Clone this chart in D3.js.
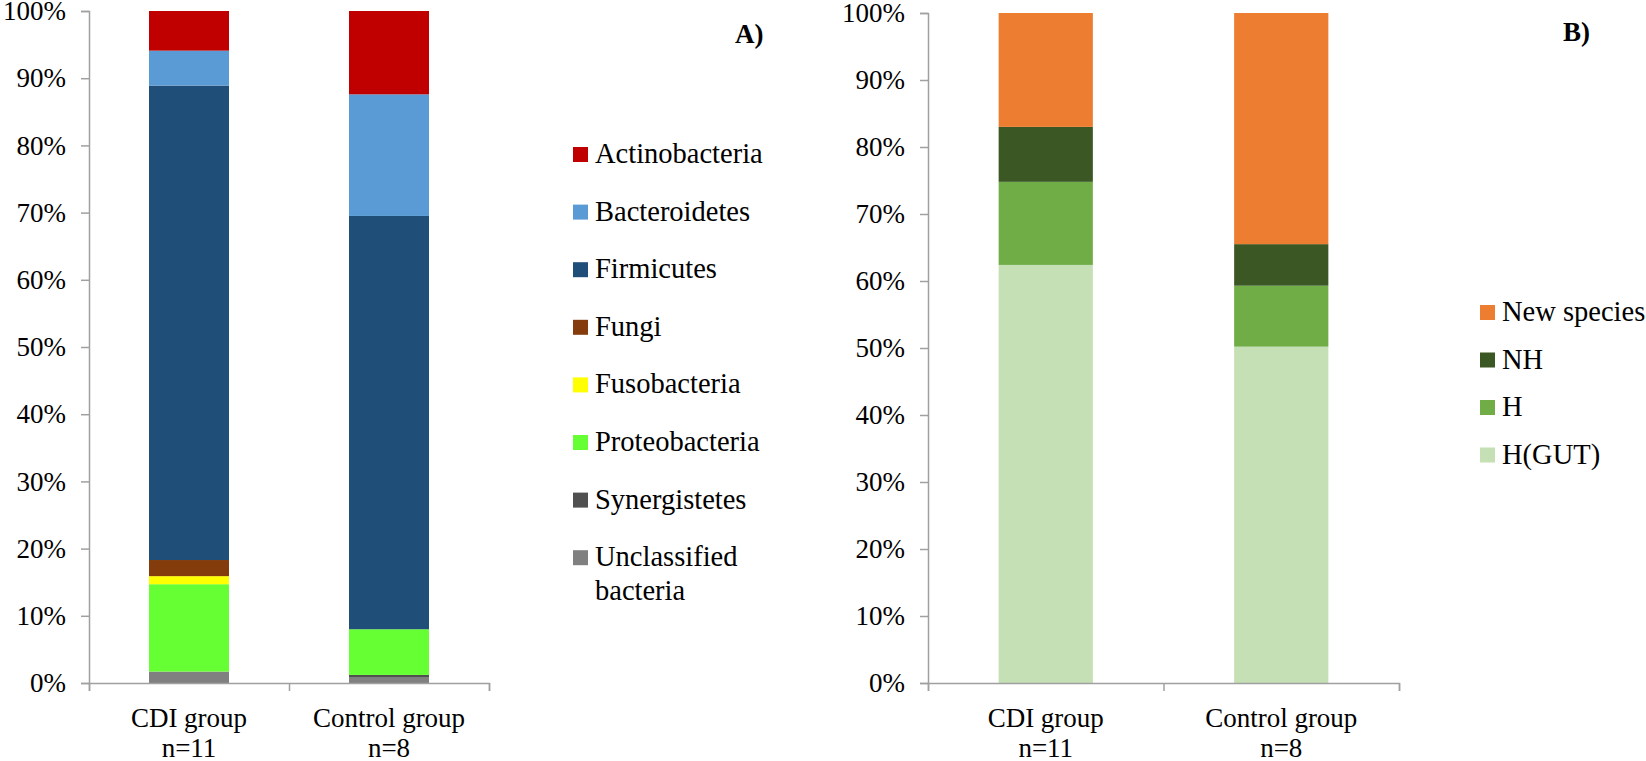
<!DOCTYPE html>
<html>
<head>
<meta charset="utf-8">
<script src="https://cdn.jsdelivr.net/npm/d3@7"></script>
<style>
  body { margin: 0; background: #fff; }
  svg text { font-family: "Liberation Serif", Tinos, "Times New Roman", Times, "DejaVu Serif", "Noto Serif", serif; fill: #000; }
</style>
</head>
<body>
<div id="chart"></div>
<script>
// groups on the x axis
var groups = ["CDI group", "Control group"];
var groupN = ["n=11", "n=8"];

// panel A - phyla, listed top of bar first (legend order)
var phyla = ["Actinobacteria", "Bacteroidetes", "Firmicutes", "Fungi",
             "Fusobacteria", "Proteobacteria", "Synergistetes", "Unclassified bacteria"];
var phylaColors = ["#C00000", "#5B9BD5", "#1F4E79", "#843C0C",
                   "#FFFF00", "#66FF33", "#505050", "#808080"];
var cdiPhyla = [5.9, 5.2, 70.6, 2.4, 1.2, 13.0, 0, 1.7];
var controlPhyla = [12.4, 18.1, 61.5, 0, 0, 6.8, 0.4, 0.8];

// panel B - species categories
var species = ["New species", "NH", "H", "H(GUT)"];
var speciesColors = ["#ED7D31", "#3A5724", "#70AD47", "#C5E0B4"];
var cdiSpecies = [17.0, 8.2, 12.4, 62.4];
var controlSpecies = [34.5, 6.2, 9.1, 50.2];

var yTicks = [0, 10, 20, 30, 40, 50, 60, 70, 80, 90, 100];

var svgWidth = 1646;
var svgHeight = 761;
var serif = "'Liberation Serif', Tinos, 'Times New Roman', Times, 'DejaVu Serif', 'Noto Serif', serif";

var svg = d3.select("#chart")
    .append("svg")
    .attr("width", svgWidth)
    .attr("height", svgHeight)
    .attr("font-family", serif);

// draws one stacked panel
function drawPanel(opts) {
    var keys = opts.keys;
    var rows = groups.map(function(g, i) {
        var row = { group: g };
        keys.forEach(function(k, j) { row[k] = opts.values[i][j]; });
        return row;
    });

    var x = d3.scaleBand()
        .domain(groups)
        .range([opts.left, opts.right])
        .paddingInner(0.6)
        .paddingOuter(0.3);

    var y = d3.scaleLinear()
        .domain([0, 100])
        .range([opts.bottom, opts.top]);

    var color = d3.scaleOrdinal().domain(keys).range(opts.colors);

    // bottom of the bar is the last key
    var stack = d3.stack().keys(keys.slice().reverse());
    var series = stack(rows);

    var g = svg.append("g");

    g.selectAll("g.layer")
        .data(series)
        .enter()
        .append("g")
        .attr("class", "layer")
        .attr("fill", function(d) { return color(d.key); })
        .selectAll("rect")
        .data(function(d) { return d; })
        .enter()
        .append("rect")
        .attr("x", function(d) { return x(d.data.group); })
        .attr("y", function(d) { return y(d[1]); })
        .attr("width", x.bandwidth())
        .attr("height", function(d) { return y(d[0]) - y(d[1]); });

    // y axis
    var yAxis = g.append("g")
        .attr("transform", "translate(" + opts.left + ",0)")
        .call(d3.axisLeft(y)
            .tickValues(yTicks)
            .tickSize(8)
            .tickPadding(15)
            .tickFormat(function(d) { return d + "%"; }));
    yAxis.attr("font-family", serif).attr("font-size", 27);
    yAxis.selectAll("text").attr("fill", "#000");

    // x axis: ticks sit on the band boundaries
    var xb = d3.scaleLinear().domain([0, groups.length]).range([opts.left, opts.right]);
    g.append("g")
        .attr("transform", "translate(0," + opts.bottom + ")")
        .call(d3.axisBottom(xb)
            .tickValues(d3.range(groups.length + 1))
            .tickSize(8)
            .tickFormat(""));

    g.selectAll(".domain, .tick line")
        .attr("stroke", "#A0A0A0")
        .attr("stroke-width", 1.5);

    // category labels
    var lab = g.selectAll("text.cat")
        .data(groups)
        .enter()
        .append("text")
        .attr("class", "cat")
        .attr("text-anchor", "middle")
        .attr("font-size", 27);
    lab.append("tspan")
        .attr("x", function(d) { return x(d) + x.bandwidth() / 2; })
        .attr("y", opts.bottom + 44)
        .text(function(d) { return d; });
    lab.append("tspan")
        .attr("x", function(d) { return x(d) + x.bandwidth() / 2; })
        .attr("y", opts.bottom + 74)
        .text(function(d, i) { return groupN[i]; });

    // panel letter
    g.append("text")
        .attr("x", opts.letterX)
        .attr("y", opts.letterY)
        .attr("font-size", 27)
        .attr("font-weight", "bold")
        .text(opts.letter);

    // legend
    var leg = g.selectAll("g.leg")
        .data(keys)
        .enter()
        .append("g")
        .attr("class", "leg")
        .attr("transform", function(d, i) {
            return "translate(" + opts.legX + "," + (opts.legY + i * opts.legStep) + ")";
        });
    leg.append("rect")
        .attr("x", 0)
        .attr("y", -16)
        .attr("width", 15)
        .attr("height", 15)
        .attr("fill", function(d) { return color(d); });
    leg.append("text")
        .attr("font-size", 28.5)
        .selectAll("tspan")
        .data(function(d) { return opts.wrap ? d.split(" ") : [d]; })
        .enter()
        .append("tspan")
        .attr("x", 22)
        .attr("y", function(d, i) { return i * 34; })
        .text(function(d) { return d; });
}

drawPanel({
    keys: phyla,
    colors: phylaColors,
    values: [cdiPhyla, controlPhyla],
    left: 89, right: 489, top: 11, bottom: 683,
    letter: "A)", letterX: 735, letterY: 43,
    legX: 573, legY: 163, legStep: 57.6, wrap: true
});

drawPanel({
    keys: species,
    colors: speciesColors,
    values: [cdiSpecies, controlSpecies],
    left: 928, right: 1399, top: 13, bottom: 683,
    letter: "B)", letterX: 1563, letterY: 41,
    legX: 1480, legY: 321, legStep: 47.5, wrap: false
});
</script>
</body>
</html>
